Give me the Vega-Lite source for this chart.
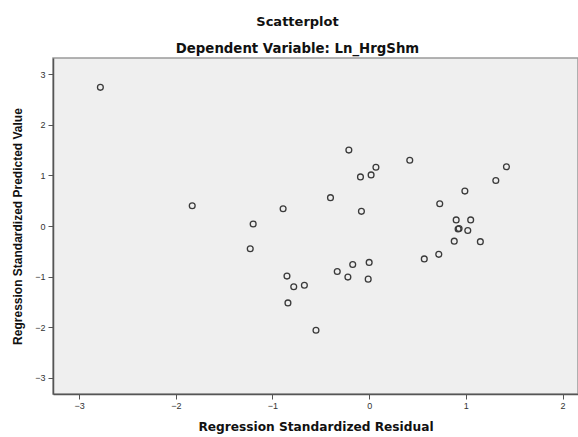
{
  "$schema": "https://vega.github.io/schema/vega-lite/v6.json",
  "width": 525,
  "height": 336,
  "autosize": {"type": "none"},
  "padding": {"left": 53, "top": 58, "right": 0, "bottom": 43},
  "background": "white",
  "title": {
    "text": "Scatterplot",
    "subtitle": "Dependent Variable: Ln_HrgShm",
    "anchor": "middle",
    "dx": -18,
    "offset": 3,
    "font": "DejaVu Sans",
    "fontSize": 13,
    "fontWeight": "bold",
    "color": "#111",
    "subtitleFont": "DejaVu Sans",
    "subtitleFontSize": 13.3,
    "subtitleFontWeight": "bold",
    "subtitleColor": "#111",
    "subtitlePadding": 13
  },
  "config": {
    "view": {"fill": "#efefef", "stroke": "#9a9a9a", "strokeWidth": 1.5},
    "axis": {
      "grid": false,
      "domainColor": "#555",
      "domainWidth": 1.5,
      "tickColor": "#555",
      "tickSize": 5,
      "labelFont": "Liberation Sans",
      "labelFontSize": 9,
      "labelColor": "#333",
      "titleFont": "Liberation Sans",
      "titleFontSize": 12,
      "titleFontWeight": "bold",
      "titleColor": "#111"
    }
  },
  "data": {
    "values": [
      {"resid": -2.78, "pred": 2.74},
      {"resid": -1.83, "pred": 0.40},
      {"resid": -1.20, "pred": 0.04},
      {"resid": -1.23, "pred": -0.45},
      {"resid": -0.89, "pred": 0.34},
      {"resid": -0.21, "pred": 1.50},
      {"resid": -0.40, "pred": 0.56},
      {"resid": -0.09, "pred": 0.97},
      {"resid": 0.02, "pred": 1.01},
      {"resid": 0.07, "pred": 1.16},
      {"resid": 0.42, "pred": 1.30},
      {"resid": -0.08, "pred": 0.29},
      {"resid": 0.73, "pred": 0.44},
      {"resid": 0.99, "pred": 0.69},
      {"resid": 1.31, "pred": 0.90},
      {"resid": 1.42, "pred": 1.17},
      {"resid": 0.90, "pred": 0.12},
      {"resid": 1.05, "pred": 0.12},
      {"resid": 0.92, "pred": -0.06},
      {"resid": 0.93, "pred": -0.05},
      {"resid": 1.02, "pred": -0.09},
      {"resid": 0.88, "pred": -0.30},
      {"resid": 1.15, "pred": -0.31},
      {"resid": 0.57, "pred": -0.65},
      {"resid": 0.72, "pred": -0.56},
      {"resid": -0.17, "pred": -0.76},
      {"resid": 0.00, "pred": -0.72},
      {"resid": -0.33, "pred": -0.90},
      {"resid": -0.22, "pred": -1.01},
      {"resid": -0.01, "pred": -1.05},
      {"resid": -0.85, "pred": -0.99},
      {"resid": -0.78, "pred": -1.20},
      {"resid": -0.67, "pred": -1.17},
      {"resid": -0.84, "pred": -1.52},
      {"resid": -0.55, "pred": -2.06}
    ]
  },
  "mark": {"type": "point", "shape": "circle", "filled": false, "size": 34, "stroke": "#3a3a3a", "strokeWidth": 1.3, "opacity": 1},
  "encoding": {
    "x": {
      "field": "resid",
      "type": "quantitative",
      "title": "Regression Standardized Residual",
      "scale": {"domain": [-3.27, 2.16], "nice": false, "zero": false},
      "axis": {"values": [-3, -2, -1, 0, 1, 2], "format": "d", "labelPadding": 2, "titlePadding": 10, "titleFont": "DejaVu Sans", "titleFontSize": 12.2}
    },
    "y": {
      "field": "pred",
      "type": "quantitative",
      "title": "Regression Standardized Predicted Value",
      "scale": {"domain": [-3.32, 3.32], "nice": false, "zero": false},
      "axis": {"values": [-3, -2, -1, 0, 1, 2, 3], "format": "d", "labelPadding": 3, "titlePadding": 10}
    }
  }
}
